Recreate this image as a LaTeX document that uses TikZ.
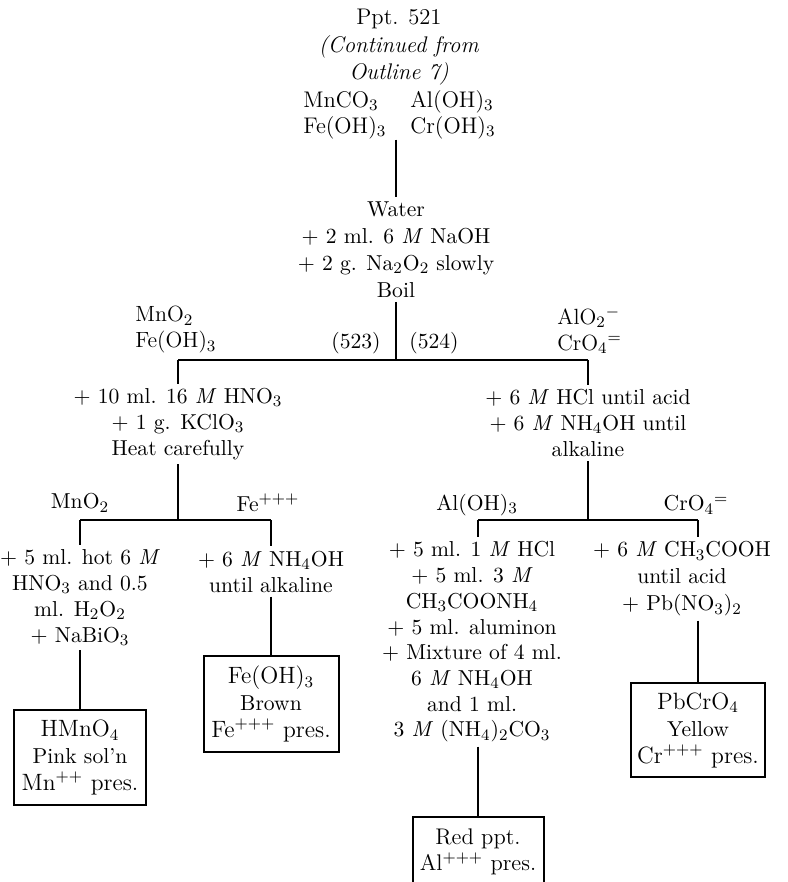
\documentclass[tikz,border=0pt]{standalone}
\begin{document}
\begin{tikzpicture}[x=0.5pt,y=-0.5pt,
  txt/.style={font=\fontsize{10.8}{13}\selectfont, align=center, inner sep=2pt},
  toptxt/.style={font=\fontsize{11.3}{13.75}\selectfont, align=center, inner sep=2pt},
  col/.style={font=\fontsize{11}{13}\selectfont, align=left, inner sep=0pt, anchor=west},
  tag/.style={font=\fontsize{10.8}{13}\selectfont, inner sep=0pt},
  res/.style={draw, line width=1pt, align=center, inner sep=0pt,
              font=\fontsize{10.8}{13.5}\selectfont},
  link/.style={line width=0.9pt}]
\useasboundingbox (0,0) rectangle (787,882);
\clip (0,0) rectangle (787,882);

% starting precipitate
\node[toptxt] (start) at (399,47.5)
  {Ppt. 521\\ \textit{(Continued from}\\ \textit{Outline 7)}};
\node[col, font=\fontsize{11.3}{13}\selectfont] (topL) at (303,115)
  {MnCO$_3$\\ Fe(OH)$_3$};
\node[col, font=\fontsize{11.3}{13}\selectfont] (topR) at (410,115)
  {Al(OH)$_3$\\ Cr(OH)$_3$};

% peroxide treatment
\node[txt, font=\fontsize{10.8}{13.5}\selectfont] (water) at (396,249.5)
  {Water\\ $+$ 2 ml. 6 \textit{M} NaOH\\ $+$ 2 g. Na$_2$O$_2$ slowly\\ Boil};

% first split
\node[col] (ppt1) at (135,330) {MnO$_2$\\ Fe(OH)$_3$};
\node[col] (sol1) at (557,330) {AlO$_2{}^{-}$\\ CrO$_4{}^{=}$};
\node[tag] (n523) at (356,343) {(523)};
\node[tag] (n524) at (434,343) {(524)};
\coordinate (bar1) at (396,360);

\node[txt] (lblock) at (178,424)
  {$+$ 10 ml. 16 \textit{M} HNO$_3$\\ $+$ 1 g. KClO$_3$\\ Heat carefully};
\node[txt] (rblock) at (588,423)
  {$+$ 6 \textit{M} HCl until acid\\ $+$ 6 \textit{M} NH$_4$OH until\\ alkaline};

% manganese / iron split
\coordinate (bar2) at (178,520);
\node[tag] (mnlbl) at (80,503) {MnO$_2$};
\node[tag] (felbl) at (268,503) {Fe$^{+++}$};
\node[txt] (mnblock) at (80,597.5)
  {$+$ 5 ml. hot 6 \textit{M}\\ HNO$_3$ and 0.5\\ ml. H$_2$O$_2$\\ $+$ NaBiO$_3$};
\node[txt] (feblock) at (271,571.5)
  {$+$ 6 \textit{M} NH$_4$OH\\ until alkaline};
\node[res, minimum width=66pt, minimum height=47.5pt] (mnbox) at (80,757.5)
  {{\fontsize{11.8}{13.5}\selectfont HMnO$_4$}\\ Pink sol'n\\
   {\fontsize{11.8}{13.5}\selectfont Mn$^{++}$ pres.}};
\node[res, minimum width=67.5pt, minimum height=48pt] (febox) at (271,704)
  {{\fontsize{11.8}{13.5}\selectfont Fe(OH)$_3$}\\ Brown\\
   {\fontsize{11.8}{13.5}\selectfont Fe$^{+++}$ pres.}};

% aluminium / chromium split
\coordinate (bar3) at (588,520);
\node[tag] (allbl) at (477,505) {Al(OH)$_3$};
\node[tag] (crlbl) at (696,505) {CrO$_4{}^{=}$};
\node[txt, font=\fontsize{10.8}{12.86}\selectfont] (alblock) at (472,642)
  {$+$ 5 ml. 1 \textit{M} HCl\\ $+$ 5 ml. 3 \textit{M}\\ CH$_3$COONH$_4$\\
   $+$ 5 ml. aluminon\\ $+$ Mixture of 4 ml.\\ 6 \textit{M} NH$_4$OH\\
   and 1 ml.\\ 3 \textit{M} (NH$_4$)$_2$CO$_3$};
\node[txt, font=\fontsize{10.8}{13.5}\selectfont] (crblock) at (682,579)
  {$+$ 6 \textit{M} CH$_3$COOH\\ until acid\\ $+$ Pb(NO$_3$)$_2$};
\node[res, minimum width=67pt, minimum height=47pt] (crbox) at (698,730)
  {{\fontsize{11.8}{13.5}\selectfont PbCrO$_4$}\\ Yellow\\
   {\fontsize{11.8}{13.5}\selectfont Cr$^{+++}$ pres.}};
\node[res, minimum width=65.5pt, minimum height=35pt, font=\fontsize{11.3}{13}\selectfont]
  (albox) at (478,852) {Red ppt.\\ Al$^{+++}$ pres.};

% connectors
\draw[link] (water.north |- topR.south) -- (water.north);
\draw[link] (water.south) -- (bar1);
\draw[link] (lblock.north |- bar1) -- (rblock.north |- bar1);
\draw[link] (lblock.north |- bar1) -- (lblock.north);
\draw[link] (rblock.north |- bar1) -- (rblock.north);

\draw[link] (lblock.south) -- (bar2);
\draw[link] (mnblock.north |- bar2) -- (feblock.north |- bar2);
\draw[link] (mnblock.north |- bar2) -- (mnblock.north);
\draw[link] (feblock.north |- bar2) -- (feblock.north);
\draw[link] (mnblock.south) -- (mnbox.north);
\draw[link] (feblock.south) -- (febox.north);

\draw[link] (rblock.south) -- (bar3);
\draw[link] (albox.north |- bar3) -- (crbox.north |- bar3);
\draw[link] (albox.north |- bar3) -- (albox.north |- alblock.north);
\draw[link] (crbox.north |- bar3) -- (crbox.north |- crblock.north);
\draw[link] (albox.north |- alblock.south) -- (albox.north);
\draw[link] (crbox.north |- crblock.south) -- (crbox.north);
\end{tikzpicture}
\end{document}
